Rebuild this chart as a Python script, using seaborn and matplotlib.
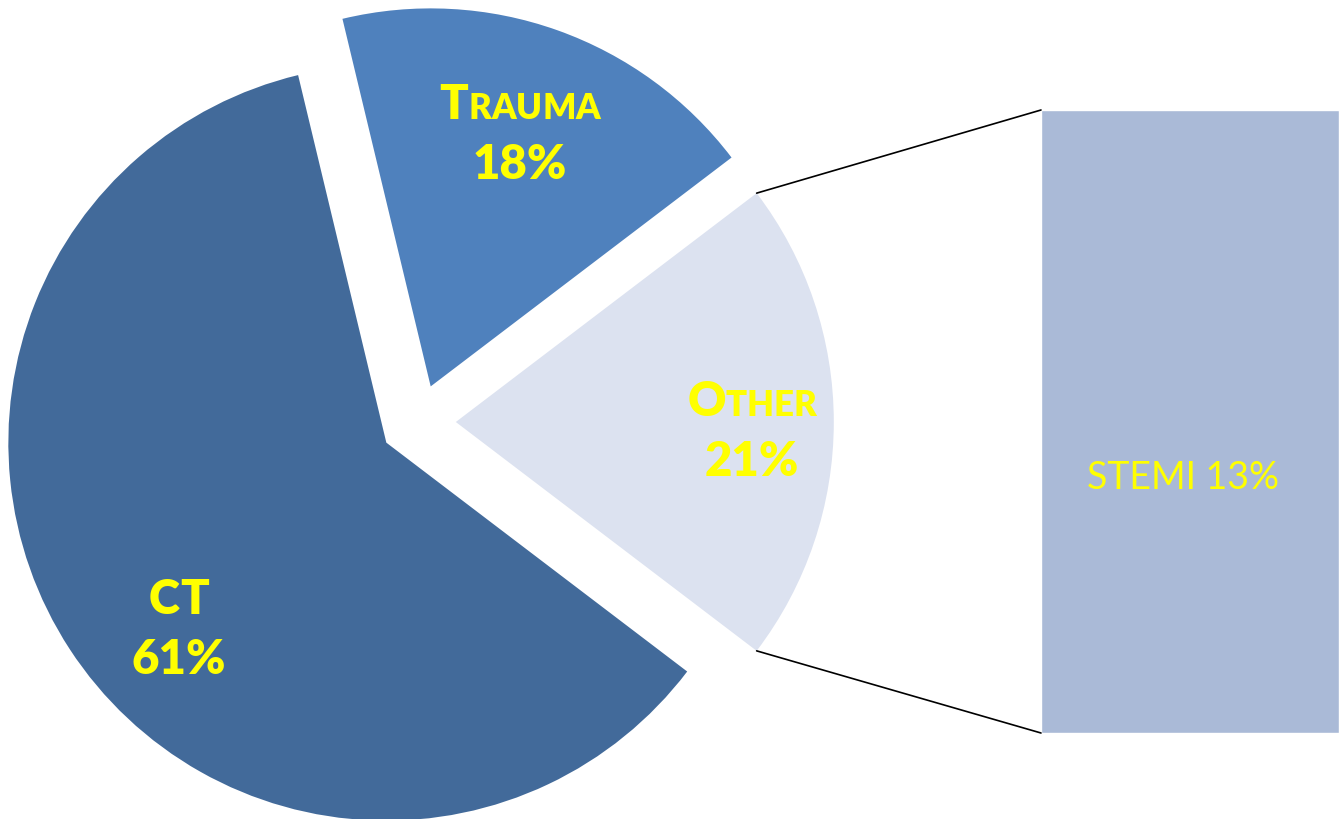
import numpy as np
import seaborn as sns
import matplotlib.pyplot as plt
from matplotlib.offsetbox import TextArea, HPacker, VPacker, AnnotationBbox
from matplotlib.patches import ConnectionPatch

# Data (shares; labels show them rounded)
slice_names = ["Other", "Trauma", "CT"]
slice_values = [20.7, 18.4, 60.9]
bar_names = ["STEMI"]
bar_values = [13]

# Styles
slice_colors = ["#DCE2F0", "#4F81BD", "#426A9A"]
bar_color = "#AABAD7"
label_color = "#FFFF00"

sns.set_theme(style="white")
plt.rcParams["font.family"] = ["Lato", "DejaVu Sans"]

W, H = 1339, 819
fig = plt.figure(figsize=(W / 100, H / 100), dpi=100)
ax = fig.add_axes([0, 0, 1, 1])

# Pie, "Other" centred on the right-hand side, every slice pulled out
radius = 378
start = -slice_values[0] / sum(slice_values) * 360 / 2
wedges, _ = ax.pie(slice_values, colors=slice_colors, startangle=start,
                   explode=[0.1 * radius] * 3, radius=radius,
                   center=(418, H - 422), wedgeprops=dict(linewidth=0))
ax.set_xlim(0, W)
ax.set_ylim(0, H)
ax.set_aspect("equal")
ax.axis("off")


# Labels (small caps emulated with two font sizes)
def small_caps(word, pct, xy):
    big = dict(color=label_color, fontsize=34, fontweight="heavy")
    small = dict(color=label_color, fontsize=25, fontweight="heavy")
    parts = [TextArea(ch.upper(), textprops=small if ch.islower() else big)
             for ch in word]
    head = HPacker(children=parts, align="baseline", pad=0, sep=0)
    pct_box = TextArea(f"{pct:.0f}%", textprops=big)
    box = VPacker(children=[head, pct_box], align="center", pad=0, sep=12)
    ab = AnnotationBbox(box, xy, frameon=False, box_alignment=(0.5, 0.5))
    ax.add_artist(ab)


label_pos = {"Other": (752, H - 432), "Trauma": (520, H - 135), "CT": (179, H - 630)}
for name, val in zip(slice_names, slice_values):
    small_caps(name, val, label_pos[name])

# Bar for the breakdown of "Other"
ax2 = fig.add_axes([1041 / W, (H - 733) / H, (W - 1041) / W, 623 / H])
sns.barplot(x=bar_names, y=bar_values, color=bar_color, width=1,
            saturation=1, ax=ax2)
ax2.set_xlim(-0.5, 0.5)
ax2.set_ylim(0, sum(bar_values))
ax2.axis("off")
ax2.text(0.477, 0.41, f"{bar_names[0]} {bar_values[0]}%", transform=ax2.transAxes,
         ha="center", va="center", color=label_color, fontsize=27)

# Connector lines from the "Other" wedge to the bar
w = wedges[0]
for theta, yb in [(w.theta2, 1), (w.theta1, 0)]:
    xa = w.center[0] + w.r * np.cos(np.radians(theta))
    ya = w.center[1] + w.r * np.sin(np.radians(theta))
    con = ConnectionPatch(xyA=(xa, ya), coordsA=ax.transData,
                          xyB=(0, yb), coordsB=ax2.transAxes,
                          color="black", linewidth=1.2)
    fig.add_artist(con)

fig.savefig("out.png", dpi=100)
